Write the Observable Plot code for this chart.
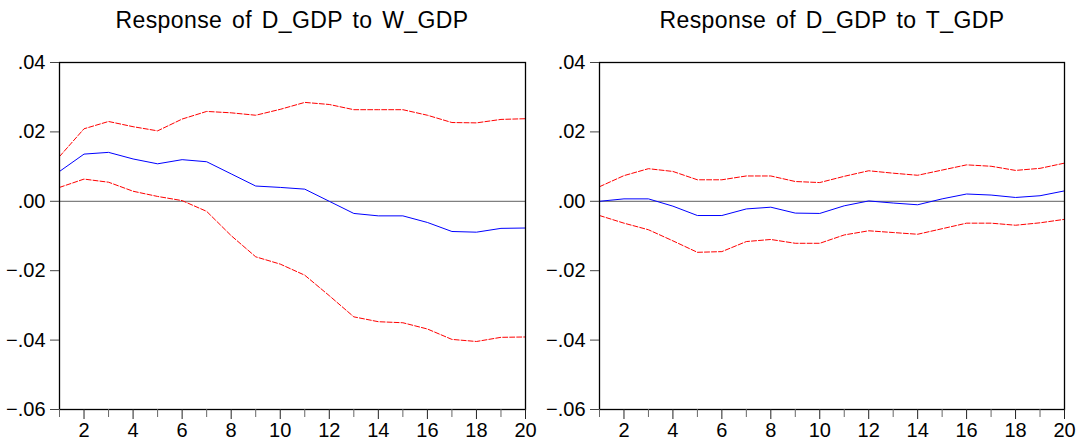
<!DOCTYPE html>
<html>
<head>
<meta charset="utf-8">
<script src="https://cdn.jsdelivr.net/npm/d3@7"></script>
<script src="https://cdn.jsdelivr.net/npm/@observablehq/plot@0.6"></script>
<style>
  html, body { margin: 0; padding: 0; background: white; }
  #wrap { position: relative; width: 1082px; height: 441px; overflow: hidden; font-family: "Liberation Sans", Arial, sans-serif; }
  .panel { position: absolute; top: 0; }
  .title { position: absolute; top: 9px; width: 500px; text-align: center; font-size: 23px; line-height: 23px; letter-spacing: 0.4px; word-spacing: 3px; color: black; white-space: nowrap; }
</style>
</head>
<body>
<div id="wrap"></div>
<script>
// Periods (horizon)
const periods = [1,2,3,4,5,6,7,8,9,10,11,12,13,14,15,16,17,18,19,20];

// Response of D_GDP to W_GDP
const wResp  = [0.0086, 0.0136, 0.0141, 0.0122, 0.0108, 0.0120, 0.0114, 0.0079, 0.0044, 0.0040,
                0.0035, 0.0000, -0.0035, -0.0042, -0.0042, -0.0061, -0.0087, -0.0089, -0.0078, -0.0077];
const wUpper = [0.0129, 0.0209, 0.0230, 0.0215, 0.0203, 0.0237, 0.0259, 0.0255, 0.0248, 0.0265,
                0.0285, 0.0279, 0.0264, 0.0264, 0.0264, 0.0248, 0.0227, 0.0226, 0.0236, 0.0238];
const wLower = [0.0040, 0.0064, 0.0055, 0.0029, 0.0014, 0.0002, -0.0029, -0.0099, -0.0160, -0.0181,
                -0.0213, -0.0272, -0.0333, -0.0347, -0.0350, -0.0368, -0.0398, -0.0404, -0.0392, -0.0391];

// Response of D_GDP to T_GDP
const tResp  = [0.0000, 0.0007, 0.0007, -0.0014, -0.0041, -0.0041, -0.0022, -0.0017, -0.0034, -0.0035,
                -0.0013, 0.0001, -0.0005, -0.0010, 0.0007, 0.0021, 0.0018, 0.0011, 0.0016, 0.0030];
const tUpper = [0.0042, 0.0074, 0.0094, 0.0086, 0.0062, 0.0062, 0.0073, 0.0073, 0.0057, 0.0054,
                0.0072, 0.0088, 0.0081, 0.0075, 0.0090, 0.0105, 0.0101, 0.0089, 0.0095, 0.0110];
const tLower = [-0.0041, -0.0063, -0.0082, -0.0114, -0.0147, -0.0145, -0.0116, -0.0110, -0.0121, -0.0121,
                -0.0097, -0.0085, -0.0090, -0.0095, -0.0079, -0.0063, -0.0063, -0.0069, -0.0062, -0.0052];

const titles = ["Response of D_GDP to W_GDP", "Response of D_GDP to T_GDP"];
const yTicks = [-0.06, -0.04, -0.02, 0, 0.02, 0.04];
const xMajorTicks = [2,4,6,8,10,12,14,16,18,20];
const xMinorTicks = [1,3,5,7,9,11,13,15,17,19];

const yFmt = v => d3.format(".2f")(v).replace("0.", ".");

function panel(resp, upper, lower, marginLeft, marginRight) {
  const rows = periods.map((p, i) => ({period: p, resp: resp[i], upper: upper[i], lower: lower[i]}));
  return Plot.plot({
    width: 541,
    height: 441,
    marginTop: 62,
    marginBottom: 32,
    marginLeft,
    marginRight,
    style: {fontFamily: '"Liberation Sans", Arial, sans-serif', fontSize: "20px", color: "black", background: "white", overflow: "visible"},
    x: {domain: [1, 20]},
    y: {domain: [-0.06, 0.04]},
    marks: [
      Plot.ruleY([0], {stroke: "#808080", strokeWidth: 1.3}),
      Plot.line(rows, {x: "period", y: "upper", stroke: "red", strokeWidth: 1, strokeDasharray: "5,2"}),
      Plot.line(rows, {x: "period", y: "lower", stroke: "red", strokeWidth: 1, strokeDasharray: "5,2"}),
      Plot.line(rows, {x: "period", y: "resp", stroke: "blue", strokeWidth: 1}),
      Plot.frame({stroke: "black", strokeWidth: 1.3}),
      Plot.axisY({ticks: yTicks, tickFormat: yFmt, tickSize: 9, tickPadding: 5, stroke: "#444", label: null}),
      Plot.axisX({ticks: xMinorTicks, tickFormat: () => "", tickSize: 8, stroke: "#666", label: null}),
      Plot.axisX({ticks: xMajorTicks, tickFormat: d => String(d), tickSize: 10, tickPadding: 3, stroke: "#222", label: null})
    ]
  });
}

const wrap = document.getElementById("wrap");
const specs = [
  {left: 0, resp: wResp, upper: wUpper, lower: wLower, ml: 59, mr: 16, center: 292},
  {left: 541, resp: tResp, upper: tUpper, lower: tLower, ml: 58, mr: 18, center: 832}
];
specs.forEach((s, i) => {
  const div = document.createElement("div");
  div.className = "panel";
  div.style.left = s.left + "px";
  div.appendChild(panel(s.resp, s.upper, s.lower, s.ml, s.mr));
  wrap.appendChild(div);
  const t = document.createElement("div");
  t.className = "title";
  t.style.left = (s.center - 250) + "px";
  t.textContent = titles[i];
  wrap.appendChild(t);
});
</script>
</body>
</html>
